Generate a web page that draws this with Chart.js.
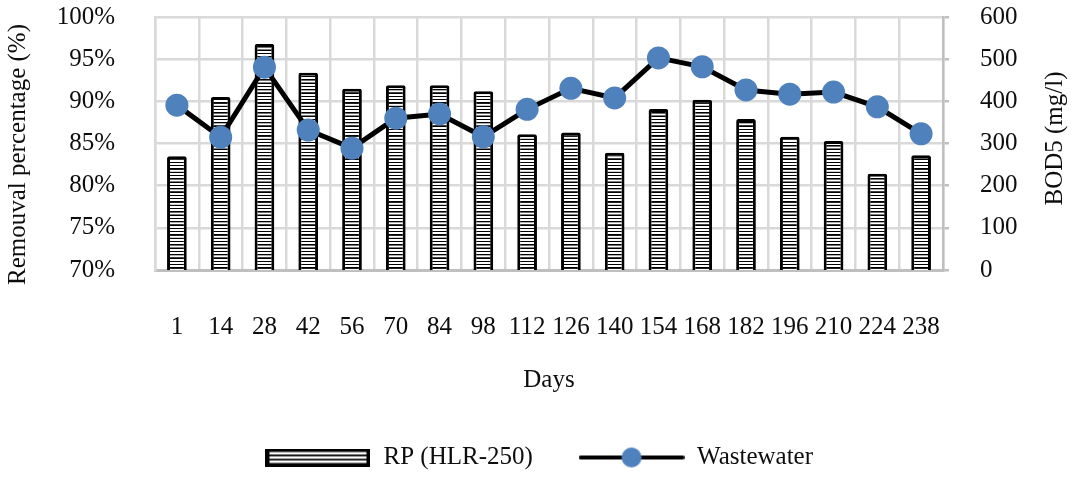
<!DOCTYPE html>
<html>
<head>
<meta charset="utf-8">
<script src="https://cdn.jsdelivr.net/npm/chart.js@4/dist/chart.umd.min.js"></script>
<style>
  html, body { margin: 0; padding: 0; background: #fff; }
  #wrap { width: 1075px; height: 477px; }
</style>
</head>
<body>
<div id="wrap"><canvas id="bodChart"></canvas></div>
<script>
'use strict';

// Data
const days = ['1', '14', '28', '42', '56', '70', '84', '98', '112', '126', '140', '154', '168', '182', '196', '210', '224', '238'];
const removalPct = [83.5, 90.5, 96.8, 93.4, 91.5, 91.9, 91.9, 91.2, 86.1, 86.3, 83.9, 89.1, 90.2, 87.9, 85.8, 85.3, 81.4, 83.6];
const bodWastewater = [391, 315, 481, 332, 289, 360, 370, 316, 381, 431, 408, 503, 482, 427, 417, 422, 387, 323];
const pctTicks = [70, 75, 80, 85, 90, 95, 100];
const bodTicks = [0, 100, 200, 300, 400, 500, 600];

const textColor = '#0d0d0d';
const gridColor = '#d9d9d9';
const axisColor = '#bfbfbf';
const pointBlue = '#4f81bd';
const serif = "'Liberation Serif', 'Times New Roman', serif";

// horizontal stripe fill of the bars
function stripePattern() {
  const c = document.createElement('canvas');
  c.width = 4;
  c.height = 10;
  const g = c.getContext('2d');
  g.fillStyle = '#fff';
  g.fillRect(0, 0, 4, 10);
  g.fillStyle = '#000';
  g.fillRect(0, 0, 4, 4);
  const p = g.createPattern(c, 'repeat');
  p.setTransform(new DOMMatrix().scale(1, 0.33));
  return p;
}

// legend swatches
function barSwatch() {
  const c = document.createElement('canvas');
  c.width = 105;
  c.height = 18;
  const g = c.getContext('2d');
  g.fillStyle = '#000';
  g.fillRect(0, 0, 105, 18);
  g.fillStyle = '#fff';
  g.fillRect(4, 3.5, 97, 2.5);
  g.fillRect(4, 7.8, 97, 2.5);
  g.fillRect(4, 12, 97, 2.5);
  return c;
}

function lineSwatch() {
  const c = document.createElement('canvas');
  c.width = 106;
  c.height = 22;
  const g = c.getContext('2d');
  g.strokeStyle = '#000';
  g.lineWidth = 4;
  g.lineCap = 'round';
  g.beginPath();
  g.moveTo(2, 11);
  g.lineTo(104, 11);
  g.stroke();
  g.fillStyle = pointBlue;
  g.beginPath();
  g.arc(53, 11, 10, 0, Math.PI * 2);
  g.fill();
  return c;
}

// both vertical axis titles read bottom-to-top
function sideTitle(ctx, text, x, y) {
  ctx.save();
  ctx.translate(x, y);
  ctx.rotate(-Math.PI / 2);
  ctx.fillStyle = textColor;
  ctx.font = '25px ' + serif;
  ctx.textAlign = 'center';
  ctx.textBaseline = 'middle';
  ctx.fillText(text, 0, 0);
  ctx.restore();
}

const axisTitles = {
  id: 'axisTitles',
  afterDraw(chart) {
    const { ctx, chartArea } = chart;
    const mid = (chartArea.top + chartArea.bottom) / 2;
    sideTitle(ctx, 'Remouval percentage (%)', 18, mid + 11);
    sideTitle(ctx, 'BOD5 (mg/l)', chart.width - 20, mid - 5);
  }
};

Chart.defaults.font.family = serif;
Chart.defaults.font.size = 25;
Chart.defaults.color = textColor;

const ctx = document.getElementById('bodChart').getContext('2d');
const swatches = [barSwatch(), lineSwatch()];

new Chart(ctx, {
  type: 'bar',
  data: {
    labels: days,
    datasets: [
      {
        type: 'bar',
        label: 'RP (HLR-250)',
        data: removalPct,
        yAxisID: 'y',
        backgroundColor: stripePattern(),
        borderColor: '#000',
        borderWidth: 3,
        borderSkipped: false,
        borderRadius: 2,
        barPercentage: 0.45,
        categoryPercentage: 1,
        order: 1
      },
      {
        type: 'line',
        label: 'Wastewater',
        data: bodWastewater,
        yAxisID: 'y1',
        borderColor: '#000',
        borderWidth: 5,
        tension: 0,
        pointRadius: 11.5,
        pointHoverRadius: 11.5,
        pointBackgroundColor: pointBlue,
        pointBorderColor: pointBlue,
        pointBorderWidth: 0,
        order: 0
      }
    ]
  },
  options: {
    responsive: true,
    maintainAspectRatio: false,
    animation: false,
    layout: {
      padding: { top: 17, left: 3, right: 0, bottom: 0 }
    },
    plugins: {
      tooltip: { enabled: false },
      legend: {
        position: 'bottom',
        maxHeight: 34,
        labels: {
          usePointStyle: true,
          pointStyleWidth: 106,
          boxHeight: 25,
          padding: 2,
          color: textColor,
          generateLabels: function (chart) {
            return chart.data.datasets.map((ds, i) => ({
              // trailing spaces keep the gap between the two entries
              text: i === 0 ? ds.label + '       ' : ds.label,
              pointStyle: swatches[i],
              fillStyle: 'transparent',
              strokeStyle: 'transparent',
              lineWidth: 0,
              fontColor: textColor,
              datasetIndex: i
            }));
          }
        }
      }
    },
    scales: {
      x: {
        offset: true,
        afterFit: function (scale) {
          scale.height = 173;
        },
        grid: {
          offset: true,
          color: gridColor,
          lineWidth: 2.5,
          drawTicks: false
        },
        border: { color: axisColor, width: 3 },
        ticks: {
          padding: 42,
          maxRotation: 0,
          autoSkip: false,
          color: textColor
        },
        title: {
          display: true,
          text: 'Days',
          color: textColor,
          padding: { top: 0, bottom: 48 }
        }
      },
      y: {
        position: 'left',
        min: pctTicks[0],
        max: pctTicks[pctTicks.length - 1],
        afterBuildTicks: function (scale) {
          scale.ticks = pctTicks.map(v => ({ value: v }));
        },
        afterFit: function (scale) {
          scale.width = 152;
          scale.paddingTop = 0;
          scale.paddingBottom = 0;
        },
        grid: {
          color: gridColor,
          lineWidth: 2.5,
          drawTicks: false
        },
        border: { color: gridColor, width: 2.5 },
        ticks: {
          padding: 40,
          autoSkip: false,
          color: textColor,
          callback: function (val) {
            return val + '%';
          }
        }
      },
      y1: {
        position: 'right',
        min: bodTicks[0],
        max: bodTicks[bodTicks.length - 1],
        afterBuildTicks: function (scale) {
          scale.ticks = bodTicks.map(v => ({ value: v }));
        },
        afterFit: function (scale) {
          scale.width = 132;
          scale.paddingTop = 0;
          scale.paddingBottom = 0;
        },
        grid: {
          drawOnChartArea: false,
          color: axisColor,
          lineWidth: 2.5,
          tickLength: 6
        },
        border: { color: axisColor, width: 2.5 },
        ticks: {
          padding: 31,
          autoSkip: false,
          color: textColor
        }
      }
    }
  },
  plugins: [axisTitles]
});
</script>
</body>
</html>
